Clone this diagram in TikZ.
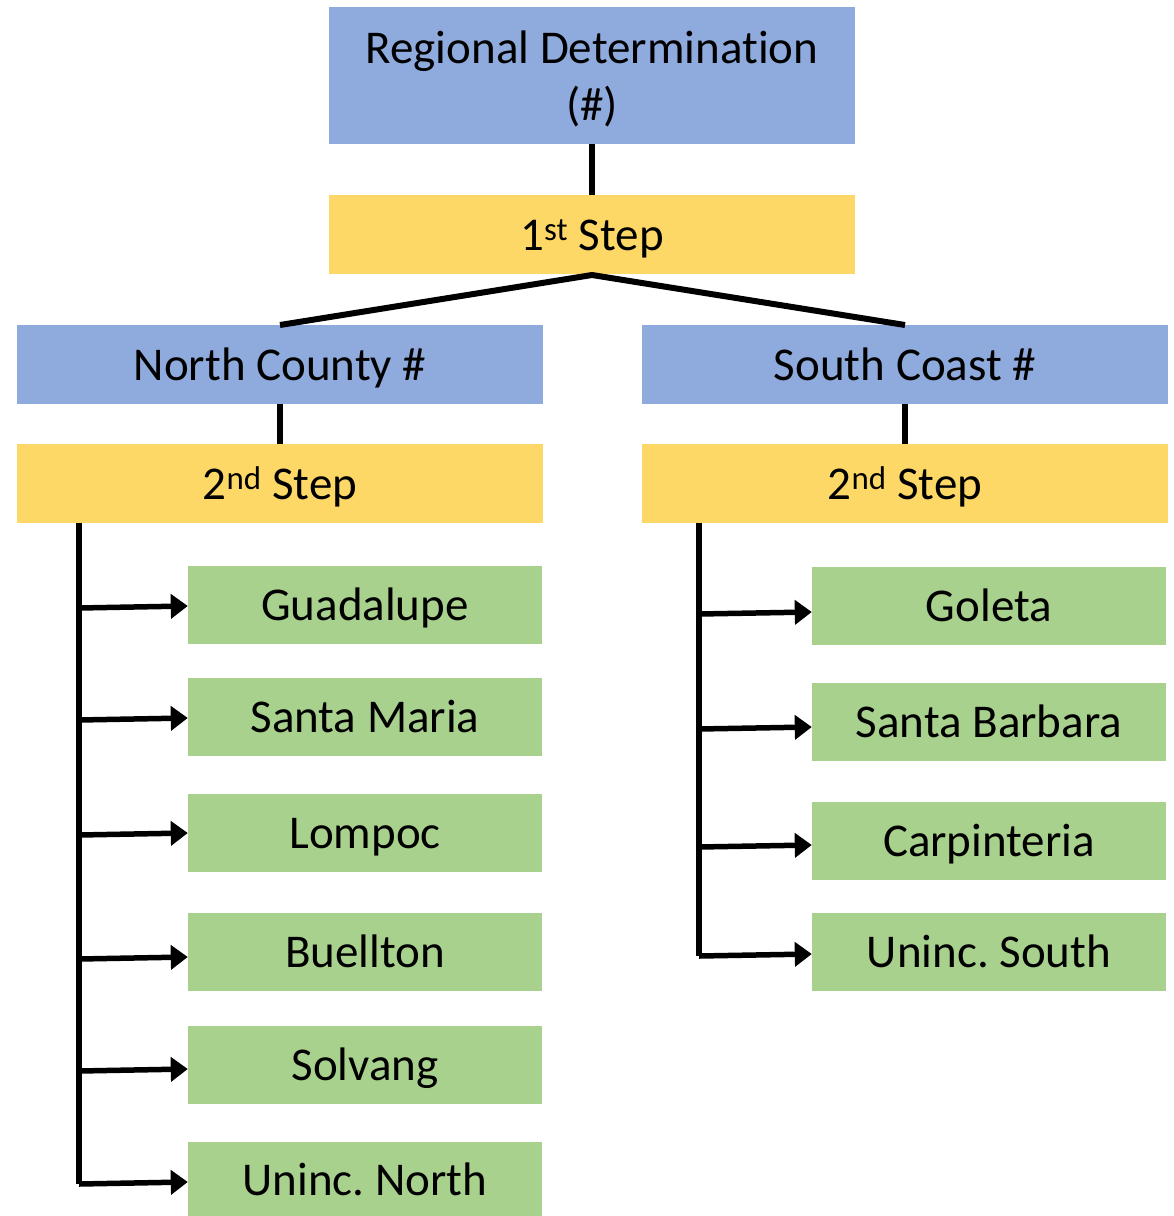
\documentclass[tikz,border=0pt]{standalone}
\usepackage{fontspec}
\setmainfont[Ligatures=NoCommon]{Carlito}
\frenchspacing
\usetikzlibrary{arrows.meta}
\definecolor{boxblue}{HTML}{8FAADC}
\definecolor{boxyellow}{HTML}{FED866}
\definecolor{boxgreen}{HTML}{A9D18E}
\begin{document}
\begin{tikzpicture}[x=1pt,y=-1pt,
  base/.style={rectangle,inner sep=0pt,font=\fontsize{47}{57}\selectfont,align=center,text height=37pt,text depth=6pt},
  bluebox/.style={base,fill=boxblue,minimum width=526pt,minimum height=79pt},
  yellowbox/.style={base,fill=boxyellow,minimum width=526pt,minimum height=79pt},
  greenbox/.style={base,fill=boxgreen,minimum width=354pt,minimum height=78pt},
  conn/.style={line width=6pt},
  arr/.style={line width=5.5pt,-{Triangle[length=17pt,width=24pt]}}]
\useasboundingbox (0,0) rectangle (1174,1216);
% top
\node[bluebox,minimum height=137pt,text height=94pt,text depth=5pt] (top) at (592,75.5) {Regional Determination\\(\#)};
\node[yellowbox] (s1) at (592,234.5) {1\textsuperscript{st} Step};
\node[bluebox] (nc) at (280,364.5) {North County \#};
\node[bluebox] (sc) at (905,364.5) {South Coast \#};
\node[yellowbox] (s2l) at (280,483.5) {2\textsuperscript{nd} Step};
\node[yellowbox] (s2r) at (905,483.5) {2\textsuperscript{nd} Step};
% left greens
\node[greenbox] (g1) at (365,605) {Guadalupe};
\node[greenbox] (g2) at (365,717) {Santa Maria};
\node[greenbox] (g3) at (365,833) {Lompoc};
\node[greenbox] (g4) at (365,952) {Buellton};
\node[greenbox] (g5) at (365,1065) {Solvang};
\node[greenbox,minimum height=75pt] (g6) at (365,1179.5) {Uninc. North};
% right greens
\node[greenbox] (h1) at (989,606) {Goleta};
\node[greenbox] (h2) at (989,722) {Santa Barbara};
\node[greenbox] (h3) at (989,841) {Carpinteria};
\node[greenbox] (h4) at (989,952) {Uninc. South};
% connectors top
\draw[conn] (top.south) -- (s1.north);
\coordinate (s1b) at (592,275);
\draw[conn,line join=miter] (280,325) -- (s1b) -- (905,325);
\draw[conn] (nc.south) -- (s2l.north);
\draw[conn] (sc.south) -- (s2r.north);
% left trunk
\coordinate (lt) at (79,523);
\coordinate (lb) at (79,1184);
\draw[conn] (lt) -- (lb);
\foreach \n/\y in {g1/608,g2/720,g3/835,g4/959,g5/1071,g6/1184}{
  \draw[arr] (79,\y) -- (\n.west |- 0,\y-2);
}
% right trunk
\coordinate (rt) at (699,523);
\coordinate (rb) at (699,956);
\draw[conn] (rt) -- (rb);
\foreach \n/\y in {h1/614,h2/729,h3/847,h4/956}{
  \draw[arr] (699,\y) -- (\n.west |- 0,\y-2);
}
\end{tikzpicture}
\end{document}
